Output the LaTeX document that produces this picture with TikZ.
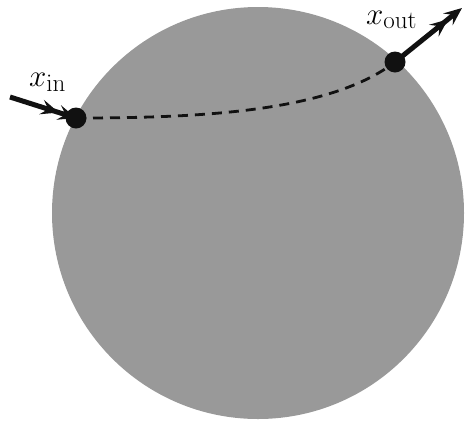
\RequirePackage{fix-cm}
\documentclass[tikz,border=0pt]{standalone}
\usetikzlibrary{arrows.meta}
\DeclareMathSizes{31}{31}{25}{20}
\definecolor{diskgray}{HTML}{999999}
\definecolor{dotblack}{HTML}{111111}
\begin{document}
\begin{tikzpicture}[x=1pt,y=-1pt,
  disc/.style={circle, fill=diskgray, minimum size=412pt, inner sep=0pt},
  dot/.style={circle, fill=dotblack, minimum size=21pt, inner sep=0pt},
  flow/.style={line width=5pt, draw=dotblack, -{Stealth[length=18pt,width=15pt,inset=7pt]Stealth[length=18pt,width=15pt,inset=7pt]}},
  track/.style={line width=2.8pt, draw=dotblack, dash pattern=on 10pt off 7pt},
  lab/.style={inner sep=0pt, anchor=base west, font=\fontsize{31}{36}\selectfont}]
\useasboundingbox (0,0) rectangle (465,421);
\node[disc] (ball) at (258,213) {};
\coordinate (pinc) at (76,118);
\coordinate (poutc) at (395,62);
\coordinate (inStart) at (10,97);
\coordinate (outEnd) at (462,8);
\draw[track] (pinc) .. controls (200,118) and (330,112) .. (poutc);
\draw[flow] (inStart) -- (pinc);
\draw[flow] (poutc) -- (outEnd);
\node[dot] (pin) at (pinc) {};
\node[dot] (pout) at (poutc) {};
\node[lab] (lin) at (29,86) {$x_{\mathrm{in}}$};
\node[lab] (lout) at (366,24) {$x_{\mathrm{out}}$};
\end{tikzpicture}
\end{document}
